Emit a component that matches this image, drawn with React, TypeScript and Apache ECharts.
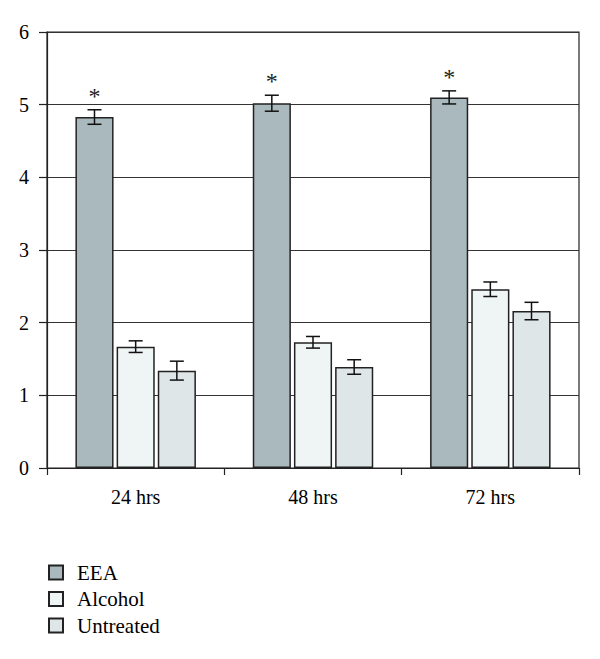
import React, { useEffect, useRef } from "react";
import * as echarts from "echarts";

const categories = ["24 hrs", "48 hrs", "72 hrs"];
const seriesNames = ["EEA", "Alcohol", "Untreated"];
const eeaValues = [4.83, 5.02, 5.1];
const eeaErrors = [0.1, 0.11, 0.09];
const alcoholValues = [1.67, 1.73, 2.46];
const alcoholErrors = [0.08, 0.08, 0.1];
const untreatedValues = [1.34, 1.39, 2.16];
const untreatedErrors = [0.13, 0.1, 0.12];
const significance = ["*", "*", "*"];
const yTicks = [0, 1, 2, 3, 4, 5, 6];

const colors = ["#aab9bd", "#eff4f4", "#dfe6e8"];
const FONT = "'Liberation Serif', 'Times New Roman', serif";

export default function App() {
  const ref = useRef<HTMLDivElement>(null);

  useEffect(() => {
    if (!ref.current) return;
    const chart = echarts.init(ref.current, null, { renderer: "svg" });

    const barWidthFrac = 0.215;
    const gapFrac = 0.08;
    const step = barWidthFrac * (1 + gapFrac);
    const offsets = [-step, 0, step];

    const allValues = [eeaValues, alcoholValues, untreatedValues];
    const allErrors = [eeaErrors, alcoholErrors, untreatedErrors];

    const barSeries = seriesNames.map((name, i) => ({
      name,
      type: "bar",
      data: allValues[i],
      barWidth: "21.5%",
      barGap: "8%",
      itemStyle: { color: colors[i], borderColor: "#222", borderWidth: 1.5 },
      z: 2,
    }));

    const errSeries = seriesNames.map((name, i) => ({
      name: name + "-err",
      type: "custom",
      z: 3,
      silent: true,
      data: allValues[i].map((v, k) => [k, v, allErrors[i][k]]),
      encode: { x: 0, y: 1 },
      renderItem: (params: any, api: any) => {
        const xi = api.value(0);
        const v = api.value(1);
        const e = api.value(2);
        const mark = i === 0 ? significance[xi] : "";
        const band = api.size([1, 0])[0];
        const cx = api.coord([xi, v])[0] + offsets[i] * band;
        const yTop = api.coord([xi, v + e])[1];
        const yBot = api.coord([xi, v - e])[1];
        const half = 7;
        const ls = { stroke: "#111", lineWidth: 1.5 };
        const children: any[] = [
          { type: "line", shape: { x1: cx, y1: yTop, x2: cx, y2: yBot }, style: ls },
          { type: "line", shape: { x1: cx - half, y1: yTop, x2: cx + half, y2: yTop }, style: ls },
          { type: "line", shape: { x1: cx - half, y1: yBot, x2: cx + half, y2: yBot }, style: ls },
        ];
        if (mark) {
          children.push({
            type: "text",
            style: {
              text: mark,
              x: cx,
              y: yTop - 2,
              textAlign: "center",
              textVerticalAlign: "bottom",
              fontSize: 24,
              fontFamily: FONT,
              fill: "#222",
            },
          });
        }
        return { type: "group", children };
      },
    }));

    chart.setOption({
      animation: false,
      backgroundColor: "#fff",
      grid: {
        left: 47,
        right: 21,
        top: 32,
        bottom: 191,
        show: true,
        borderColor: "#222",
        borderWidth: 1.2,
        backgroundColor: "transparent",
      },
      legend: {
        data: seriesNames,
        orient: "vertical",
        left: 43,
        top: 557,
        itemWidth: 14,
        itemHeight: 14,
        itemGap: 5.5,
        icon: "rect",
        textStyle: {
          fontFamily: FONT,
          fontSize: 21,
          lineHeight: 19,
          color: "#000",
          padding: [0, 0, 0, 9],
        },
      },
      xAxis: {
        type: "category",
        data: categories,
        boundaryGap: true,
        axisLine: { show: true, lineStyle: { color: "#222", width: 1.2 } },
        axisTick: { show: true, length: 7, lineStyle: { color: "#222", width: 1.2 } },
        axisLabel: { fontFamily: FONT, fontSize: 20, color: "#000", margin: 19 },
        splitLine: { show: false },
      },
      yAxis: {
        type: "value",
        min: yTicks[0],
        max: yTicks[yTicks.length - 1],
        interval: 1,
        axisLine: { show: true, lineStyle: { color: "#222", width: 1.2 } },
        axisTick: { show: true, length: 8, lineStyle: { color: "#222", width: 1.2 } },
        axisLabel: { fontFamily: FONT, fontSize: 20, color: "#000", margin: 18 },
        splitLine: { show: true, lineStyle: { color: "#333", width: 1.2 } },
      },
      series: [...barSeries, ...errSeries],
    });

    return () => chart.dispose();
  }, []);

  return (
    <div
      ref={ref}
      style={{ position: "fixed", left: 0, top: 0, width: 600, height: 659 }}
    />
  );
}
